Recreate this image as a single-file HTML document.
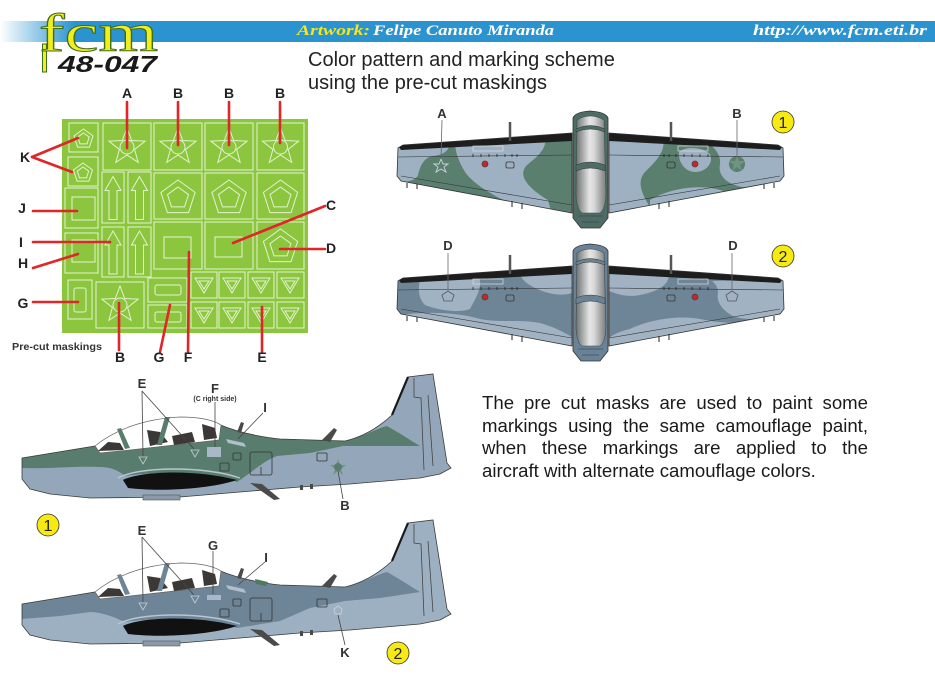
<!DOCTYPE html>
<html><head><meta charset="utf-8">
<style>
html,body{margin:0;padding:0;background:#fff;}
body{width:935px;height:679px;position:relative;overflow:hidden;font-family:"Liberation Sans",Arial,sans-serif;}
svg{position:absolute;left:0;top:0;}
.h{position:absolute;left:308px;font-size:20px;line-height:23px;color:#222;}
.j{position:absolute;left:482px;width:386px;font-size:18.6px;line-height:22.6px;color:#1a1a1a;text-align:justify;text-align-last:justify;}
.jl{text-align:left;text-align-last:left;}
</style></head><body>
<svg width="935" height="679" viewBox="0 0 935 679" xmlns="http://www.w3.org/2000/svg">
<defs>
<linearGradient id="hb" gradientUnits="userSpaceOnUse" x1="0" y1="0" x2="75" y2="0"><stop offset="0" stop-color="#ffffff"/><stop offset="1" stop-color="#2a93d0"/></linearGradient>
<linearGradient id="cg" x1="0" y1="0" x2="1" y2="0"><stop offset="0" stop-color="#6d7070"/><stop offset="0.45" stop-color="#e6e6e6"/><stop offset="0.6" stop-color="#d8d8d8"/><stop offset="1" stop-color="#7a7d7d"/></linearGradient>
<clipPath id="wc"><polygon points="572,133 403,145 398,148 397,176 401,181 572,213"/><polygon points="609,133 778,145 783,148 784,176 780,181 609,213"/></clipPath>
<g id="star"><polygon points="0,-19 4.7,-6.47 18.07,-5.87 7.61,2.47 11.17,15.37 0,8 -11.17,15.37 -7.61,2.47 -18.07,-5.87 -4.7,-6.47"/><circle r="7"/></g>
<g id="pent"><polygon points="0,-18 17.1,-5.6 10.6,14.6 -10.6,14.6 -17.1,-5.6"/><polygon points="0,-11 10.5,-3.4 6.5,8.9 -6.5,8.9 -10.5,-3.4"/></g>
<g id="pents"><polygon points="0,-10 9.5,-3.1 5.9,8.1 -5.9,8.1 -9.5,-3.1"/><polygon points="0,-6 5.7,-1.9 3.5,4.9 -3.5,4.9 -5.7,-1.9"/></g>
<g id="tri"><polygon points="-9,-7 9,-7 0,8"/><polygon points="-5,-4 5,-4 0,4"/></g>
<g id="arr"><polygon points="-4,22 4,22 4,-7 8,-7 0,-21 -8,-7 -4,-7"/></g>
</defs>

<!-- header band -->
<rect x="0" y="21" width="935" height="21" fill="url(#hb)"/>
<text x="297" y="35" font-family="Liberation Serif, serif" font-weight="bold" font-style="italic" font-size="15" fill="#f3e61c" textLength="73" lengthAdjust="spacingAndGlyphs">Artwork:</text>
<text x="373" y="35" font-family="Liberation Serif, serif" font-weight="bold" font-style="italic" font-size="15" fill="#ffffff" textLength="181" lengthAdjust="spacingAndGlyphs">Felipe Canuto Miranda</text>
<text x="753" y="35" font-family="Liberation Serif, serif" font-weight="bold" font-style="italic" font-size="15" fill="#ffffff" textLength="174" lengthAdjust="spacingAndGlyphs">http://www.fcm.eti.br</text>
<!-- logo -->
<rect x="42.5" y="44" width="4" height="28" fill="#f2ee1e" stroke="#3e6e1a" stroke-width="1"/>
<text x="39" y="51" font-family="Liberation Serif, serif" font-size="54" fill="#f2ee1e" stroke="#3e6e1a" stroke-width="1" textLength="119" lengthAdjust="spacingAndGlyphs">fcm</text>
<text x="58" y="72" font-family="Liberation Sans, sans-serif" font-weight="bold" font-style="italic" font-size="23" fill="#1a1a1a" textLength="99" lengthAdjust="spacingAndGlyphs">48-047</text>

<!-- mask sheet -->
<rect x="62" y="119" width="246" height="214" fill="#8cc63f"/>
<g fill="none" stroke="#e4f2d2" stroke-width="1">
<rect x="69" y="123" width="29" height="29"/><rect x="68" y="157" width="30" height="29"/>
<rect x="103" y="123" width="48" height="47"/><rect x="154" y="123" width="48" height="47"/><rect x="205" y="123" width="48" height="47"/><rect x="257" y="123" width="47" height="47"/>
<rect x="102" y="172" width="22" height="51"/><rect x="128" y="172" width="23" height="51"/><rect x="102" y="227" width="22" height="50"/><rect x="128" y="227" width="23" height="50"/>
<rect x="154" y="173" width="48" height="46"/><rect x="205" y="173" width="48" height="46"/><rect x="257" y="173" width="47" height="46"/>
<rect x="154" y="222" width="48" height="47"/><rect x="205" y="222" width="48" height="47"/><rect x="257" y="222" width="47" height="47"/>
<rect x="65" y="188" width="33" height="40"/><rect x="65" y="233" width="33" height="40"/>
<rect x="68" y="280" width="24" height="39"/><rect x="96" y="282" width="48" height="46"/>
<rect x="148" y="278" width="39" height="24"/><rect x="148" y="305" width="39" height="23"/>
<rect x="191" y="272" width="26" height="26"/><rect x="219" y="272" width="26" height="26"/><rect x="248" y="272" width="26" height="26"/><rect x="277" y="272" width="27" height="26"/>
<rect x="191" y="302" width="26" height="26"/><rect x="219" y="302" width="26" height="26"/><rect x="248" y="302" width="26" height="26"/><rect x="277" y="302" width="27" height="26"/>
<use href="#star" x="127" y="147"/><use href="#star" x="178" y="147"/><use href="#star" x="229" y="147"/><use href="#star" x="280.5" y="147"/><use href="#star" x="120" y="305"/>
<use href="#pent" x="178" y="198"/><use href="#pent" x="229" y="198"/><use href="#pent" x="280.5" y="198"/><use href="#pent" x="280.5" y="247"/>
<use href="#pents" x="83.5" y="139"/><use href="#pents" x="83" y="173"/>
<use href="#arr" x="113" y="197.5"/><use href="#arr" x="139.5" y="197.5"/><use href="#arr" x="113" y="252"/><use href="#arr" x="139.5" y="252"/>
<rect x="72" y="197" width="23" height="23"/><rect x="72" y="240" width="23" height="22"/>
<rect x="164" y="237" width="27" height="21"/><rect x="215" y="237" width="27" height="20"/>
<rect x="74" y="288" width="12" height="24" rx="2"/>
<rect x="155" y="285" width="26" height="10" rx="2"/><rect x="155" y="312" width="26" height="10" rx="2"/>
<use href="#tri" x="204" y="285"/><use href="#tri" x="232" y="285"/><use href="#tri" x="261" y="285"/><use href="#tri" x="290" y="285"/>
<use href="#tri" x="204" y="315"/><use href="#tri" x="232" y="315"/><use href="#tri" x="261" y="315"/><use href="#tri" x="290" y="315"/>
</g>
<g stroke="#e0262a" stroke-width="2.6" fill="none" stroke-linecap="round">
<line x1="127" y1="102" x2="127" y2="148"/><line x1="178" y1="102" x2="178" y2="145"/><line x1="229" y1="102" x2="229" y2="145"/><line x1="280" y1="102" x2="280" y2="143"/>
<line x1="32" y1="157" x2="78" y2="138"/><line x1="32" y1="157" x2="72" y2="172"/>
<line x1="33" y1="211" x2="77" y2="211"/><line x1="33" y1="242" x2="110" y2="242"/><line x1="33" y1="268" x2="78" y2="254"/><line x1="33" y1="302" x2="78" y2="302"/>
<line x1="119" y1="350" x2="119" y2="303"/><line x1="160" y1="352" x2="170" y2="305"/><line x1="188" y1="352" x2="189" y2="252"/><line x1="262" y1="352" x2="262" y2="307"/>
<line x1="325" y1="206" x2="233" y2="243"/><line x1="325" y1="249" x2="280" y2="249"/>
</g>
<g font-family="Liberation Sans, sans-serif" font-weight="bold" font-size="14" fill="#222" text-anchor="middle">
<text x="127" y="98">A</text><text x="178" y="98">B</text><text x="229" y="98">B</text><text x="280" y="98">B</text>
<text x="25" y="162">K</text><text x="22" y="213">J</text><text x="21" y="247">I</text><text x="23" y="268">H</text><text x="23" y="308">G</text>
<text x="120" y="362">B</text><text x="159" y="362">G</text><text x="188" y="362">F</text><text x="262" y="362">E</text>
<text x="331" y="210">C</text><text x="331" y="253">D</text>
</g>
<text x="12" y="350" font-family="Liberation Sans, sans-serif" font-weight="bold" font-size="10" fill="#333" textLength="90" lengthAdjust="spacingAndGlyphs">Pre-cut maskings</text>

<!-- WING VIEW 1 -->
<g>
<g clip-path="url(#wc)">
<rect x="390" y="125" width="400" height="95" fill="#5a7f6f"/>
<g fill="#9eb1c2">
<path d="M396,146 L448,142 C452,150 442,156 432,156 C424,158 420,166 418,175 C416,180 410,182 396,182 Z"/>
<path d="M455,142 L545,136 C548,150 535,158 526,166 C518,176 528,188 548,200 L552,214 L515,206 C495,196 475,186 465,172 C459,162 455,152 455,142 Z"/>
<path d="M608,132 L662,136 C668,150 655,162 645,172 C636,182 642,195 652,210 L608,214 Z"/>
<path d="M679,152 C686,146 702,147 710,154 C714,163 706,172 695,172 C685,172 678,162 679,152 Z"/>
<path d="M712,146 L786,146 L786,178 C772,186 752,190 738,186 C724,182 718,174 720,164 C721,156 716,150 712,146 Z"/>
<path d="M650,200 C670,188 700,184 720,190 C740,196 765,190 786,180 L786,186 L650,214 Z"/>
</g>
<circle cx="737" cy="164" r="8" fill="#5a7f6f"/>
</g>
<polygon points="572,133 403,145 399,147 401,150 572,141" fill="#1d1d1d"/>
<polygon points="609,133 778,145 782,147 780,150 609,141" fill="#1d1d1d"/>
<g fill="none" stroke="#333" stroke-width="0.8">
<polygon points="572,133 403,145 398,148 397,176 401,181 572,213"/><polygon points="609,133 778,145 783,148 784,176 780,181 609,213"/>
<path d="M398,157 L572,155 M609,155 L783,157 M401,176 L572,205 M609,205 L780,176" stroke-width="0.6"/>
<rect x="473" y="146" width="30" height="5" stroke="#ddd" stroke-width="0.7"/><rect x="678" y="146" width="30" height="5" stroke="#ddd" stroke-width="0.7"/>
<path d="M473,154v3M481,154v3M489,154v3M497,154v3M505,154v3M512,154v3M517,154v3M664,154v3M669,154v3M676,154v3M684,154v3M692,154v3M700,154v3M708,154v3" stroke="#222"/>
<path d="M407,183v5M417,184v5M512,201v6M522,203v6M774,183v5M764,184v5M669,201v6M659,203v6" stroke="#222" stroke-width="1"/>
<rect x="506" y="162" width="8" height="6" rx="1.5"/><rect x="667" y="162" width="8" height="6" rx="1.5"/>
</g>
<line x1="510" y1="122" x2="510" y2="141" stroke="#555" stroke-width="2.5"/><line x1="671" y1="122" x2="671" y2="141" stroke="#555" stroke-width="2.5"/>
<circle cx="485" cy="164" r="3" fill="#d0202a" stroke="#444" stroke-width="0.8"/><circle cx="695" cy="164" r="3" fill="#d0202a" stroke="#444" stroke-width="0.8"/>
<polygon points="441,159 443,164 448,164 444,167 446,172 441,169 436,172 438,167 434,164 439,164" fill="none" stroke="#c8d6de" stroke-width="0.9"/>
<polygon points="737,156 739,161 745,161 740,165 742,171 737,167 732,171 734,165 729,161 735,161" fill="#6f9582"/>
<path d="M573,118 Q575,112 590,111 Q606,112 608,118 L608,218 L600,228 L581,228 L573,218 Z" fill="#4e6c66" stroke="#333" stroke-width="0.8"/>
<path d="M577,120 Q590,112 604,120 L606,195 Q605,210 600,213 L582,213 Q577,210 576,195 Z" fill="url(#cg)" stroke="#3d4d4a" stroke-width="0.6"/>
<path d="M576,129 Q590,122 605,129 L605,132 Q590,126 576,132 Z M576,165 Q590,159 605,165 L605,171 Q590,165 576,171 Z" fill="#4e6c66" stroke="#333" stroke-width="0.5"/>
<path d="M578,216 L603,216 M582,222 L599,222" stroke="#2b3b38" stroke-width="0.6" fill="none"/>
<line x1="442" y1="120" x2="441" y2="159" stroke="#666" stroke-width="0.8"/><line x1="737" y1="120" x2="737" y2="157" stroke="#666" stroke-width="0.8"/>
<g font-family="Liberation Sans, sans-serif" font-weight="bold" font-size="13" fill="#333" text-anchor="middle"><text x="442" y="118">A</text><text x="737" y="118">B</text></g>
<circle cx="783" cy="122" r="11" fill="#f7ea12" stroke="#333" stroke-width="0.8"/>
<text x="783" y="128" font-family="Liberation Sans, sans-serif" font-size="16" fill="#222" text-anchor="middle">1</text>
</g>

<!-- WING VIEW 2 -->
<g transform="translate(0,133)">
<g clip-path="url(#wc)">
<rect x="390" y="125" width="400" height="95" fill="#6d8597"/>
<g fill="#a1b2c2">
<path d="M420,147 L478,142 C484,152 476,165 470,176 C460,180 440,178 425,172 C418,165 418,155 420,147 Z"/>
<path d="M400,182 C430,178 460,180 480,186 C500,190 520,186 540,190 C555,194 565,200 572,204 L572,214 L520,206 Z"/>
<path d="M520,139 L572,135 L572,160 C560,164 545,160 535,155 C525,150 520,145 520,139 Z"/>
<path d="M609,136 L668,138 C672,150 660,158 640,162 C625,165 615,160 609,158 Z"/>
<path d="M712,148 L784,146 L784,178 C770,186 750,188 735,184 C722,178 716,168 718,160 C718,155 716,151 712,148 Z"/>
<path d="M630,196 C650,186 680,182 700,186 C720,190 740,192 760,186 L783,180 L783,182 L609,214 L609,205 C615,200 622,198 630,196 Z"/>
</g>
</g>
<polygon points="572,133 403,145 399,147 401,150 572,141" fill="#1d1d1d"/>
<polygon points="609,133 778,145 782,147 780,150 609,141" fill="#1d1d1d"/>
<g fill="none" stroke="#333" stroke-width="0.8">
<polygon points="572,133 403,145 398,148 397,176 401,181 572,213"/><polygon points="609,133 778,145 783,148 784,176 780,181 609,213"/>
<path d="M398,157 L572,155 M609,155 L783,157 M401,176 L572,205 M609,205 L780,176" stroke-width="0.6"/>
<rect x="473" y="146" width="30" height="5" stroke="#ddd" stroke-width="0.7"/><rect x="678" y="146" width="30" height="5" stroke="#ddd" stroke-width="0.7"/>
<path d="M473,154v3M481,154v3M489,154v3M497,154v3M505,154v3M512,154v3M517,154v3M664,154v3M669,154v3M676,154v3M684,154v3M692,154v3M700,154v3M708,154v3" stroke="#222"/>
<path d="M407,183v5M417,184v5M512,201v6M522,203v6M774,183v5M764,184v5M669,201v6M659,203v6" stroke="#222" stroke-width="1"/>
<rect x="506" y="162" width="8" height="6" rx="1.5"/><rect x="667" y="162" width="8" height="6" rx="1.5"/>
</g>
<line x1="510" y1="122" x2="510" y2="141" stroke="#555" stroke-width="2.5"/><line x1="671" y1="122" x2="671" y2="141" stroke="#555" stroke-width="2.5"/>
<circle cx="485" cy="164" r="3" fill="#d0202a" stroke="#444" stroke-width="0.8"/><circle cx="695" cy="164" r="3" fill="#d0202a" stroke="#444" stroke-width="0.8"/>
<polygon points="448,158 454,162 452,168 444,168 442,162" fill="none" stroke="#556" stroke-width="0.8"/>
<polygon points="732,158 738,162 736,168 728,168 726,162" fill="none" stroke="#556" stroke-width="0.8"/>
<path d="M573,118 Q575,112 590,111 Q606,112 608,118 L608,218 L600,228 L581,228 L573,218 Z" fill="#6a8295" stroke="#333" stroke-width="0.8"/>
<path d="M577,120 Q590,112 604,120 L606,195 Q605,210 600,213 L582,213 Q577,210 576,195 Z" fill="url(#cg)" stroke="#3d4a55" stroke-width="0.6"/>
<path d="M576,129 Q590,122 605,129 L605,132 Q590,126 576,132 Z M576,165 Q590,159 605,165 L605,171 Q590,165 576,171 Z" fill="#6a8295" stroke="#333" stroke-width="0.5"/>
<path d="M578,216 L603,216 M582,222 L599,222" stroke="#2b3b48" stroke-width="0.6" fill="none"/>
<line x1="448" y1="120" x2="448" y2="157" stroke="#666" stroke-width="0.8"/><line x1="732" y1="120" x2="732" y2="157" stroke="#666" stroke-width="0.8"/>
<g font-family="Liberation Sans, sans-serif" font-weight="bold" font-size="13" fill="#333" text-anchor="middle"><text x="448" y="117">D</text><text x="733" y="117">D</text></g>
<circle cx="783" cy="123" r="11" fill="#f7ea12" stroke="#333" stroke-width="0.8"/>
<text x="783" y="129" font-family="Liberation Sans, sans-serif" font-size="16" fill="#222" text-anchor="middle">2</text>
</g>

<!-- SIDE VIEW 1 -->
<g>
<path d="M22,458 L95,446 L218,424 C232,430 252,436 280,439 L345,441 C362,437 378,428 392,415 L408,377 L433,374 L447,463 L451,468 L440,474 L420,478 L350,484 L300,487 L240,492 L180,497 L90,498 L50,494 L30,489 L22,479 Z" fill="#94a7ba"/>
<path d="M22,458 L95,446 L218,424 C232,430 252,436 280,439 L345,441 C362,437 378,428 387,426 C398,432 410,440 420,446 L343,446 L310,453 L277,456 C265,460 255,470 237,482 C215,473 165,470 125,476 C118,470 110,467 100,467 C70,466 50,469 22,468 Z" fill="#587d6e"/>
<path d="M22,458 L95,446 L218,424 C232,430 252,436 280,439 L345,441 C362,437 378,428 392,415 L408,377 L433,374 L447,463 L451,468 L440,474 L420,478 L350,484 L300,487 L240,492 L180,497 L90,498 L50,494 L30,489 L22,479 Z" fill="none" stroke="#3a3a3a" stroke-width="0.8"/>
<path d="M392,415 L408,377" stroke="#1a1a1a" stroke-width="2.2"/>
<path d="M414,378 L414,397 L421,398 L424,470 M428,395 L433,466" stroke="#444" stroke-width="0.8" fill="none"/>
<path d="M95,446 C112,432 140,419 180,417 C200,417 213,420 221,425 L219,440 L130,450 L100,453 Z" fill="#ffffff" stroke="#666" stroke-width="0.7"/>
<g fill="#3c3836"><polygon points="98,451 108,442 120,443 124,450"/><polygon points="147,430 160,432 168,442 150,446"/><polygon points="172,436 192,432 195,442 174,445"/><polygon points="202,424 215,428 217,438 204,440"/></g>
<g fill="#587d6e"><polygon points="165,417 170,417 162,445 157,445"/><polygon points="117,429 121,428 130,448 125,449"/></g>
<path d="M123,480 C140,471 195,469 237,480 C210,489 160,492 128,488 Z" fill="#111"/>
<path d="M118,478 C140,466 205,466 240,478" stroke="#b8c6d0" stroke-width="1.4" fill="none"/>
<rect x="143" y="495" width="37" height="5" fill="#8a9aaa" stroke="#555" stroke-width="0.6"/>
<g fill="#4a4a4a"><polygon points="250,483 262,484 280,499 274,500"/><polygon points="237,432 241,422 244,423 241,433"/><polygon points="322,440 334,428 337,430 330,442"/><rect x="300" y="485" width="3" height="5"/><rect x="310" y="484" width="3" height="5"/></g>
<g fill="none" stroke="#333" stroke-width="0.8"><rect x="220" y="463" width="9" height="8" rx="1"/><rect x="233" y="453" width="8" height="7" rx="1"/><rect x="250" y="452" width="22" height="23" rx="2"/><rect x="317" y="453" width="10" height="8" rx="1"/><line x1="261" y1="467" x2="261" y2="475"/></g>
<g fill="none" stroke="#c4d0da" stroke-width="0.8"><polygon points="139,457 147,457 143,464"/><polygon points="191,450 199,450 195,457"/></g>
<rect x="207" y="447" width="14" height="10" fill="#a9b8c8"/>
<polygon points="226,439 244,443 246,447 228,443" fill="#b0bfcc"/>
<polygon points="338,459 340,465 346,465 341,469 343,475 338,471 333,475 335,469 330,465 336,465" fill="#6f9582"/><circle cx="338" cy="467" r="4" fill="#587d6e"/>
<g stroke="#444" stroke-width="0.8" fill="none"><path d="M142,391 L143,456 M142,391 L194,449 M215,402 L215,447 M263,413 L238,439 M343,499 L338,471"/></g>
<g font-family="Liberation Sans, sans-serif" font-weight="bold" font-size="13" fill="#333" text-anchor="middle"><text x="142" y="388">E</text><text x="215" y="393">F</text><text x="265" y="412">I</text><text x="345" y="510">B</text></g>
<text x="215" y="401" font-family="Liberation Sans, sans-serif" font-weight="bold" font-size="7" fill="#333" text-anchor="middle">(C right side)</text>
</g>
<circle cx="48" cy="525" r="11" fill="#f7ea12" stroke="#333" stroke-width="0.8"/>
<text x="48" y="531" font-family="Liberation Sans, sans-serif" font-size="16" fill="#222" text-anchor="middle">1</text>

<!-- SIDE VIEW 2 -->
<g transform="translate(0,146)">
<path d="M22,458 L95,446 L218,424 C232,430 252,436 280,439 L345,441 C362,437 378,428 392,415 L408,377 L433,374 L447,463 L451,468 L440,474 L420,478 L350,484 L300,487 L240,492 L180,497 L90,498 L50,494 L30,489 L22,479 Z" fill="#9db0c1"/>
<path d="M22,458 L95,446 L218,424 C232,430 252,436 280,439 L345,441 C362,437 378,428 387,426 C398,432 410,440 420,446 L380,452 L345,455 L310,462 L280,475 L237,482 C215,473 165,470 125,476 C112,470 100,466 90,466 L60,470 L22,473 Z" fill="#6e8598"/>
<path d="M22,458 L95,446 L218,424 C232,430 252,436 280,439 L345,441 C362,437 378,428 392,415 L408,377 L433,374 L447,463 L451,468 L440,474 L420,478 L350,484 L300,487 L240,492 L180,497 L90,498 L50,494 L30,489 L22,479 Z" fill="none" stroke="#3a3a3a" stroke-width="0.8"/>
<path d="M392,415 L408,377" stroke="#1a1a1a" stroke-width="2.2"/>
<path d="M414,378 L414,397 L421,398 L424,470 M428,395 L433,466" stroke="#444" stroke-width="0.8" fill="none"/>
<path d="M95,446 C112,432 140,419 180,417 C200,417 213,420 221,425 L219,440 L130,450 L100,453 Z" fill="#ffffff" stroke="#666" stroke-width="0.7"/>
<g fill="#3c3836"><polygon points="98,451 108,442 120,443 124,450"/><polygon points="147,430 160,432 168,442 150,446"/><polygon points="172,436 192,432 195,442 174,445"/><polygon points="202,424 215,428 217,438 204,440"/></g>
<g fill="#6e8598"><polygon points="165,417 170,417 162,445 157,445"/><polygon points="117,429 121,428 130,448 125,449"/></g>
<path d="M123,480 C140,471 195,469 237,480 C210,489 160,492 128,488 Z" fill="#111"/>
<path d="M118,478 C140,466 205,466 240,478" stroke="#b8c6d0" stroke-width="1.4" fill="none"/>
<rect x="143" y="495" width="37" height="5" fill="#8a9aaa" stroke="#555" stroke-width="0.6"/>
<g fill="#4a4a4a"><polygon points="250,483 262,484 280,499 274,500"/><polygon points="237,432 241,422 244,423 241,433"/><polygon points="322,440 334,428 337,430 330,442"/><rect x="300" y="485" width="3" height="5"/><rect x="310" y="484" width="3" height="5"/></g>
<polygon points="255,433 268,436 266,440 256,438" fill="#4f7a60"/>
<g fill="none" stroke="#333" stroke-width="0.8"><rect x="220" y="463" width="9" height="8" rx="1"/><rect x="233" y="453" width="8" height="7" rx="1"/><rect x="250" y="452" width="22" height="23" rx="2"/><rect x="317" y="453" width="10" height="8" rx="1"/><line x1="261" y1="467" x2="261" y2="475"/></g>
<g fill="none" stroke="#c4d0da" stroke-width="0.8"><polygon points="139,457 147,457 143,464"/><polygon points="191,450 199,450 195,457"/></g>
<rect x="207" y="449" width="14" height="5" fill="#a9b8c8"/>
<polygon points="226,439 244,443 246,447 228,443" fill="#b0bfcc"/>
<polygon points="338,460 342,463 341,468 335,468 334,463" fill="none" stroke="#c4d0da" stroke-width="0.9"/>
<g stroke="#444" stroke-width="0.8" fill="none"><path d="M142,391 L143,456 M142,391 L194,449 M213,405 L213,448 M265,416 L238,439 M345,499 L338,469"/></g>
<g font-family="Liberation Sans, sans-serif" font-weight="bold" font-size="13" fill="#333" text-anchor="middle"><text x="142" y="389">E</text><text x="213" y="404">G</text><text x="266" y="416">I</text><text x="345" y="511">K</text></g>
</g>
<circle cx="398" cy="653" r="11" fill="#f7ea12" stroke="#333" stroke-width="0.8"/>
<text x="398" y="659" font-family="Liberation Sans, sans-serif" font-size="16" fill="#222" text-anchor="middle">2</text>
</svg>

<div class="h" style="top:49px;">Color pattern and marking scheme</div>
<div class="h" style="top:72px;">using the pre-cut maskings</div>

<div class="j" style="top:392px;">The pre cut masks are used to paint some</div>
<div class="j" style="top:414.6px;">markings using the same camouflage paint,</div>
<div class="j" style="top:437.2px;">when these markings are applied to the</div>
<div class="j jl" style="top:459.8px;">aircraft with alternate camouflage colors.</div>
</body></html>
